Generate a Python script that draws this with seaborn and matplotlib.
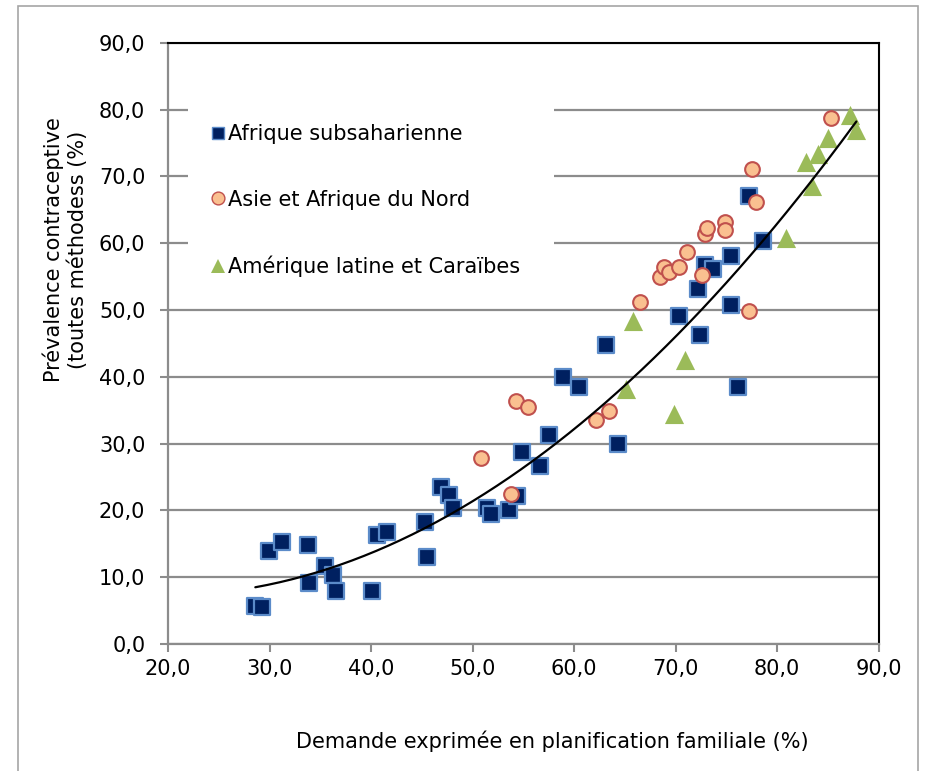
import numpy as np
import pandas as pd
import matplotlib
matplotlib.use("Agg")
import matplotlib.pyplot as plt
from matplotlib.lines import Line2D
from matplotlib.patches import Rectangle
from matplotlib.ticker import FuncFormatter
import seaborn as sns

# Demande exprimée (%) et prévalence contraceptive (%) par région
ssa_demand = [28.6, 29.3, 29.9, 31.2, 33.8, 33.9, 35.5, 36.3, 36.5, 40.1,
              40.6, 41.6, 45.3, 45.5, 46.9, 47.7, 48.1, 51.4, 51.8, 53.6,
              54.4, 54.9, 56.6, 57.5, 58.9, 60.5, 63.1, 64.3, 70.3, 72.2,
              72.4, 72.9, 73.7, 75.5, 75.5, 76.1, 77.2, 78.6]
ssa_prev = [5.7, 5.6, 13.9, 15.2, 14.8, 9.1, 11.7, 10.3, 8.0, 8.0,
            16.3, 16.7, 18.2, 13.0, 23.5, 22.3, 20.4, 20.3, 19.5, 20.0,
            22.1, 28.7, 26.7, 31.3, 40.0, 38.5, 44.8, 30.0, 49.1, 53.2,
            46.2, 56.7, 56.2, 58.1, 50.7, 38.5, 67.1, 60.3]

ana_demand = [50.8, 53.8, 54.3, 55.5, 62.2, 63.4, 66.5, 68.5, 68.9, 69.3,
              70.3, 71.1, 72.6, 72.9, 73.1, 74.9, 74.9, 77.2, 77.5, 77.9, 85.3]
ana_prev = [27.9, 22.4, 36.4, 35.5, 33.5, 34.8, 51.2, 55.0, 56.4, 55.7,
            56.4, 58.6, 55.2, 61.4, 62.2, 63.1, 62.0, 49.9, 71.1, 66.2, 78.7]

lac_demand = [65.1, 65.8, 69.8, 70.9, 80.9, 82.8, 83.4, 84.0, 85.0, 87.2, 87.8]
lac_prev = [38.2, 48.4, 34.4, 42.5, 60.7, 72.1, 68.6, 73.4, 75.7, 79.2, 76.9]

# Courbe de tendance polynomiale d'ordre 2 : a*x^2 + b*x + c
trend_coef = [0.015237, -0.5960, 13.075]

labels = ["Afrique subsaharienne", "Asie et Afrique du Nord",
          "Amérique latine et Caraïbes"]

x_ticks = [20, 30, 40, 50, 60, 70, 80, 90]
y_ticks = [0, 10, 20, 30, 40, 50, 60, 70, 80, 90]

sns.set_style("white")
plt.rcParams["font.family"] = ["DejaVu Sans"]
plt.rcParams["text.color"] = "black"

W, H = 925, 771
fig = plt.figure(figsize=(W / 100, H / 100), dpi=100)
ax = fig.add_axes([168 / W, 1 - 644 / H, 710.7 / W, 601.3 / H])

grid_col = "#8c8c8c"
navy, light_blue = "#002060", "#5b8bc9"
peach, brick = "#fac090", "#c0504d"
olive = "#9bbb59"

sns.scatterplot(x=ssa_demand, y=ssa_prev, marker="s", s=122, color=navy,
                edgecolor=light_blue, linewidth=1.6, ax=ax, zorder=2,
                legend=False)
sns.scatterplot(x=ana_demand, y=ana_prev, marker="o", s=112, color=peach,
                edgecolor=brick, linewidth=1.5, ax=ax, zorder=3,
                legend=False)
sns.scatterplot(x=lac_demand, y=lac_prev, marker="^", s=190, color=olive,
                edgecolor=olive, linewidth=0, ax=ax, zorder=3,
                legend=False)

# Tendance tracée sur l'étendue des demandes observées
all_x = ssa_demand + ana_demand + lac_demand
trend_x = np.linspace(min(all_x), max(all_x), 200)
trend_y = np.polyval(trend_coef, trend_x)
sns.lineplot(x=trend_x, y=trend_y, color="black", linewidth=1.6,
             ax=ax, zorder=4, legend=False)

ax.set_xlim(20, 90)
ax.set_ylim(0, 90)
ax.set_xticks(x_ticks)
ax.set_yticks(y_ticks)
fmt = FuncFormatter(lambda v, p: f"{v:.1f}".replace(".", ","))
ax.xaxis.set_major_formatter(fmt)
ax.yaxis.set_major_formatter(fmt)
ax.set_xlabel("")
ax.set_ylabel("")

ax.yaxis.grid(True, color=grid_col, linewidth=1.6)
ax.xaxis.grid(False)
ax.set_axisbelow(True)

ax.tick_params(axis="both", which="major", direction="out", length=5.8,
               width=1.5, color=grid_col, labelsize=15, labelcolor="black",
               bottom=True, left=True)
ax.tick_params(axis="x", pad=5)
ax.tick_params(axis="y", pad=10.5)

for side in ("left", "bottom"):
    ax.spines[side].set_color(grid_col)
    ax.spines[side].set_linewidth(1.6)
for side in ("top", "right"):
    ax.spines[side].set_color("black")
    ax.spines[side].set_linewidth(1.5)
    ax.spines[side].set_visible(True)

# Fond blanc du cartouche de légende (masque le quadrillage)
ax.add_patch(Rectangle((188 / W, 1 - 285 / H), (554 - 188) / W,
                       (285 - 100) / H, transform=fig.transFigure,
                       facecolor="white", edgecolor="none", zorder=1.5))

handles = [
    Line2D([], [], linestyle="none", marker="s", markersize=8.8,
           markerfacecolor=navy, markeredgecolor=light_blue,
           markeredgewidth=1.0),
    Line2D([], [], linestyle="none", marker="o", markersize=9.2,
           markerfacecolor=peach, markeredgecolor=brick,
           markeredgewidth=1.0),
    Line2D([], [], linestyle="none", marker="^", markersize=9.5,
           markerfacecolor=olive, markeredgecolor=olive,
           markeredgewidth=0),
]
leg = ax.legend(handles, labels, loc="upper left",
                bbox_to_anchor=(188 / W, 1 - 102 / H),
                bbox_transform=fig.transFigure, frameon=False,
                borderpad=1.05, labelspacing=2.2,
                handlelength=0.75, handletextpad=0.12, fontsize=15,
                borderaxespad=0)

fig.text(65 / W, 1 - 250 / H,
         "Prévalence contraceptive\n(toutes méthodess (%)",
         rotation=90, ha="center", va="center", fontsize=15,
         multialignment="center")
fig.text(552 / W, 1 - 741 / H,
         "Demande exprimée en planification familiale (%)",
         ha="center", va="center", fontsize=15)

fig.patches.append(Rectangle((17.5 / W, -0.1), (918 - 17.5) / W,
                             (771 - 6) / H + 0.1, transform=fig.transFigure,
                             fill=False, edgecolor="#a6a6a6", linewidth=1.2))

fig.savefig("out.png", dpi=100)
